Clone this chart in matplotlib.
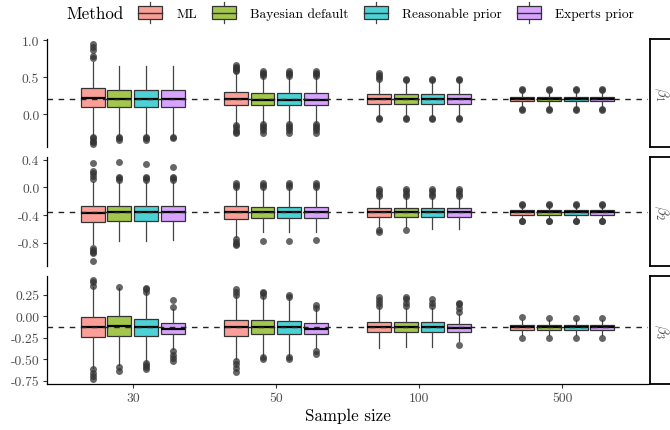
import matplotlib
matplotlib.use("Agg")
import matplotlib.pyplot as plt
from matplotlib.patches import Rectangle, Patch
from matplotlib.lines import Line2D
from matplotlib.legend_handler import HandlerBase

plt.rcParams['font.family'] = ['cmr10', 'DejaVu Serif']
plt.rcParams['mathtext.fontset'] = 'cm'
plt.rcParams['axes.unicode_minus'] = False
plt.rcParams['axes.formatter.use_mathtext'] = True

# ---------------- data ----------------
sample_sizes = ["30", "50", "100", "500"]
methods = ["ML", "Bayesian default", "Reasonable prior", "Experts prior"]
colors = ["#F8766D", "#7CAE00", "#00BFC4", "#C77CFF"]
param_labels = [r"$\beta_1$", r"$\beta_2$", r"$\beta_3$"]
true_values = [0.2, -0.36, -0.13]

# beta1: rows = sample size, cols = method
b1_q1 = [[0.09, 0.09, 0.09, 0.09], [0.12, 0.12, 0.12, 0.12], [0.135, 0.135, 0.135, 0.135], [0.17, 0.17, 0.17, 0.17]]
b1_med = [[0.21, 0.20, 0.20, 0.20], [0.20, 0.19, 0.19, 0.19], [0.20, 0.20, 0.20, 0.20], [0.20, 0.20, 0.20, 0.20]]
b1_q3 = [[0.35, 0.32, 0.32, 0.32], [0.30, 0.285, 0.285, 0.285], [0.27, 0.265, 0.265, 0.265], [0.234, 0.234, 0.234, 0.234]]
b1_lo = [[-0.27, -0.27, -0.27, -0.27], [-0.13, -0.11, -0.11, -0.11], [-0.04, -0.03, -0.03, -0.03], [0.10, 0.10, 0.10, 0.10]]
b1_hi = [[0.70, 0.65, 0.65, 0.65], [0.56, 0.51, 0.51, 0.51], [0.45, 0.44, 0.44, 0.44], [0.30, 0.30, 0.30, 0.30]]
b1_out = [
    [[0.76, 0.78, 0.87, 0.91, 0.95, -0.31, -0.33, -0.36, -0.38, -0.41], [-0.31, -0.33, -0.35], [-0.31, -0.33, -0.35], [-0.31, -0.33]],
    [[0.58, 0.60, 0.62, 0.64, 0.66, -0.15, -0.18, -0.21, -0.24, -0.26], [0.52, 0.54, 0.56, 0.58, -0.13, -0.16, -0.19, -0.22, -0.25],
     [0.52, 0.54, 0.56, 0.58, -0.13, -0.16, -0.19, -0.22, -0.25], [0.52, 0.54, 0.56, 0.58, -0.13, -0.16, -0.19, -0.22, -0.25]],
    [[0.47, 0.50, 0.53, 0.56, -0.05, -0.07], [0.46, 0.47, -0.06, -0.07], [0.46, 0.47, -0.06, -0.07], [0.46, 0.47, -0.06, -0.07]],
    [[0.33, 0.34, 0.07, 0.06], [0.33, 0.34, 0.07, 0.06], [0.33, 0.34, 0.07, 0.06], [0.33, 0.34, 0.07, 0.06]],
]

# beta2
b2_q1 = [[-0.505, -0.49, -0.49, -0.49], [-0.46, -0.45, -0.45, -0.45], [-0.43, -0.43, -0.43, -0.43], [-0.395, -0.395, -0.395, -0.395]]
b2_med = [[-0.37, -0.36, -0.36, -0.36], [-0.36, -0.36, -0.36, -0.36], [-0.36, -0.36, -0.36, -0.36], [-0.36, -0.36, -0.36, -0.36]]
b2_q3 = [[-0.266, -0.27, -0.27, -0.27], [-0.275, -0.28, -0.28, -0.28], [-0.30, -0.30, -0.30, -0.30], [-0.328, -0.328, -0.328, -0.328]]
b2_lo = [[-0.82, -0.77, -0.77, -0.76], [-0.72, -0.65, -0.65, -0.65], [-0.58, -0.58, -0.60, -0.60], [-0.45, -0.45, -0.45, -0.45]]
b2_hi = [[0.07, 0.07, 0.07, 0.07], [-0.01, -0.02, -0.02, -0.02], [-0.16, -0.16, -0.16, -0.16], [-0.27, -0.27, -0.27, -0.27]]
b2_out = [
    [[0.12, 0.17, 0.20, 0.23, 0.35, -0.87, -0.90, -0.93, -0.95, -1.06], [0.10, 0.13, 0.15, 0.36], [0.10, 0.13, 0.15, 0.34], [0.10, 0.13, 0.15, 0.30]],
    [[0.01, 0.04, 0.06, -0.75, -0.79, -0.82, -0.84], [0.0, 0.03, 0.06, -0.77], [0.0, 0.03, 0.06, -0.77], [0.0, 0.03, 0.06, -0.76]],
    [[-0.03, -0.06, -0.09, -0.12, -0.61, -0.64], [-0.03, -0.06, -0.09, -0.12, -0.62], [-0.03, -0.06, -0.09, -0.12], [-0.03, -0.06, -0.09, -0.12]],
    [[-0.24, -0.25, -0.48, -0.49], [-0.24, -0.25, -0.48, -0.49], [-0.24, -0.25, -0.48, -0.49], [-0.24, -0.25, -0.48, -0.49]],
]

# beta3
b3_q1 = [[-0.245, -0.225, -0.225, -0.207], [-0.225, -0.21, -0.21, -0.205], [-0.187, -0.187, -0.187, -0.187], [-0.157, -0.157, -0.157, -0.157]]
b3_med = [[-0.128, -0.115, -0.125, -0.148], [-0.128, -0.125, -0.13, -0.15], [-0.128, -0.12, -0.128, -0.14], [-0.128, -0.128, -0.128, -0.128]]
b3_q3 = [[-0.01, 0.0, -0.03, -0.082], [-0.043, -0.045, -0.05, -0.08], [-0.07, -0.065, -0.07, -0.09], [-0.10, -0.10, -0.10, -0.10]]
b3_lo = [[-0.60, -0.57, -0.52, -0.38], [-0.50, -0.46, -0.46, -0.37], [-0.374, -0.36, -0.36, -0.285], [-0.22, -0.22, -0.22, -0.22]]
b3_hi = [[0.34, 0.33, 0.28, 0.085], [0.24, 0.23, 0.21, 0.08], [0.105, 0.10, 0.10, 0.027], [-0.04, -0.04, -0.04, -0.04]]
b3_out = [
    [[0.36, 0.40, 0.43, -0.62, -0.66, -0.70, -0.73], [0.34, -0.59, -0.64], [0.29, 0.32, 0.33, -0.54, -0.57, -0.59, -0.62], [0.11, 0.19, -0.40, -0.45, -0.49, -0.52]],
    [[0.25, 0.29, 0.32, -0.52, -0.56, -0.60, -0.65], [0.24, 0.27, 0.29, -0.48, -0.50], [0.22, 0.25, -0.47, -0.50], [0.10, 0.13, -0.40, -0.44]],
    [[0.12, 0.15, 0.19, 0.22], [0.12, 0.16, 0.20, 0.23], [0.12, 0.16, 0.20], [0.05, 0.10, 0.14, 0.16, -0.34]],
    [[-0.01, -0.25], [-0.02, -0.25], [-0.02, -0.25], [-0.02, -0.25]],
]

panels = [
    (b1_q1, b1_med, b1_q3, b1_lo, b1_hi, b1_out),
    (b2_q1, b2_med, b2_q3, b2_lo, b2_hi, b2_out),
    (b3_q1, b3_med, b3_q3, b3_lo, b3_hi, b3_out),
]
y_limits = [(-0.446, 1.014), (-1.136, 0.4375), (-0.790, 0.471)]
y_ticks = [[0.0, 0.5, 1.0], [-0.8, -0.4, 0.0, 0.4], [-0.75, -0.5, -0.25, 0.0, 0.25]]
y_ticklabels = [["0.0", "0.5", "1.0"], ["-0.8", "-0.4", "0.0", "0.4"], ["-0.75", "-0.50", "-0.25", "0.00", "0.25"]]

# ---------------- figure ----------------
W, H = 670, 431
fig = plt.figure(figsize=(W / 100, H / 100), dpi=100)

def fx(px):
    return px / W

def fy(px):
    return 1 - px / H

panel_rows = [(40, 148), (158, 267), (277, 385)]
x_left, x_right = 47, 648

dodge = 0.1875
box_w = 0.167
fill_alpha = 0.7
text_gray = "#4D4D4D"
tick_size = 9.8

for p, (q1, med, q3, lo, hi, outs) in enumerate(panels):
    top, bot = panel_rows[p]
    ax = fig.add_axes([fx(x_left), fy(bot), fx(x_right - x_left), (bot - top) / H])
    for m in range(len(methods)):
        stats = []
        positions = []
        for s in range(len(sample_sizes)):
            stats.append(dict(q1=q1[s][m], med=med[s][m], q3=q3[s][m],
                              whislo=lo[s][m], whishi=hi[s][m], fliers=outs[s][m]))
            positions.append(s + 1 + (m - 1.5) * dodge)
        r, g, b, _ = matplotlib.colors.to_rgba(colors[m])
        fc = (r, g, b, fill_alpha)
        ax.bxp(stats, positions=positions, widths=box_w, patch_artist=True, showcaps=False,
               boxprops=dict(facecolor=fc, edgecolor="#333333", linewidth=0.9),
               whiskerprops=dict(color="#444444", linewidth=0.9),
               medianprops=dict(color="black", linewidth=1.6),
               flierprops=dict(marker="o", markersize=5.0, markerfacecolor="#333333",
                               markeredgecolor="none", alpha=0.75),
               manage_ticks=False)
    ax.axhline(true_values[p], color="#222222", lw=1.0, ls=(0, (4, 4)), zorder=5)
    ax.set_xlim(0.4, 4.6)
    ax.set_ylim(*y_limits[p])
    ax.set_yticks(y_ticks[p])
    ax.set_yticklabels(y_ticklabels[p])
    for side in ["top", "right"]:
        ax.spines[side].set_visible(False)
    ax.spines["left"].set_linewidth(0.9)
    ax.tick_params(axis="y", length=3.0, width=0.8, color="#333333", pad=2.5,
                   labelsize=tick_size, labelcolor=text_gray)
    if p < 2:
        ax.spines["bottom"].set_visible(False)
        ax.set_xticks([])
    else:
        ax.spines["bottom"].set_linewidth(0.9)
        ax.set_xticks(range(1, len(sample_sizes) + 1))
        ax.set_xticklabels(sample_sizes)
        ax.tick_params(axis="x", length=3.0, width=0.8, color="#333333", pad=3,
                       labelsize=tick_size, labelcolor=text_gray)
        ax.set_xlabel("Sample size", fontsize=12.2, labelpad=2)

    # facet strip
    sax = fig.add_axes([fx(650), fy(bot), fx(23), (bot - top) / H])
    sax.set_xticks([])
    sax.set_yticks([])
    for sp in sax.spines.values():
        sp.set_linewidth(1.3)
        sp.set_color("black")
    sax.text(0.5, 0.5, param_labels[p], rotation=-90, ha="center", va="center",
             fontsize=10.5, color=text_gray, transform=sax.transAxes)


class BoxKeyHandler(HandlerBase):
    def create_artists(self, legend, orig_handle, xdescent, ydescent, width, height, fontsize, trans):
        x0 = -xdescent
        y0 = -ydescent
        cx = x0 + width / 2
        ext = height * 0.3
        fc = orig_handle.get_facecolor()
        w1 = Line2D([cx, cx], [y0 + height, y0 + height + ext], color="#444444", lw=0.9, transform=trans)
        w2 = Line2D([cx, cx], [y0 - ext, y0], color="#444444", lw=0.9, transform=trans)
        rect = Rectangle((x0, y0), width, height, facecolor=fc, edgecolor="#333333", lw=0.9, transform=trans)
        med = Line2D([x0, x0 + width], [y0 + height / 2, y0 + height / 2], color="#333333", lw=1.0, transform=trans)
        return [w1, w2, rect, med]


handles = []
for c in colors:
    r, g, b, _ = matplotlib.colors.to_rgba(c)
    handles.append(Patch(facecolor=(r, g, b, fill_alpha)))

leg_y = fy(14)
fig.text(fx(66), leg_y, "Method", fontsize=12.2, ha="left", va="center")
fig.legend(handles=handles, labels=methods, handler_map={Patch: BoxKeyHandler()},
           loc="center left", bbox_to_anchor=(fx(138), leg_y), ncol=4, frameon=False,
           fontsize=9.7, handlelength=1.8, handleheight=1.15, handletextpad=1.05,
           columnspacing=1.1, borderpad=0, borderaxespad=0)

fig.savefig("out.png", dpi=100)
